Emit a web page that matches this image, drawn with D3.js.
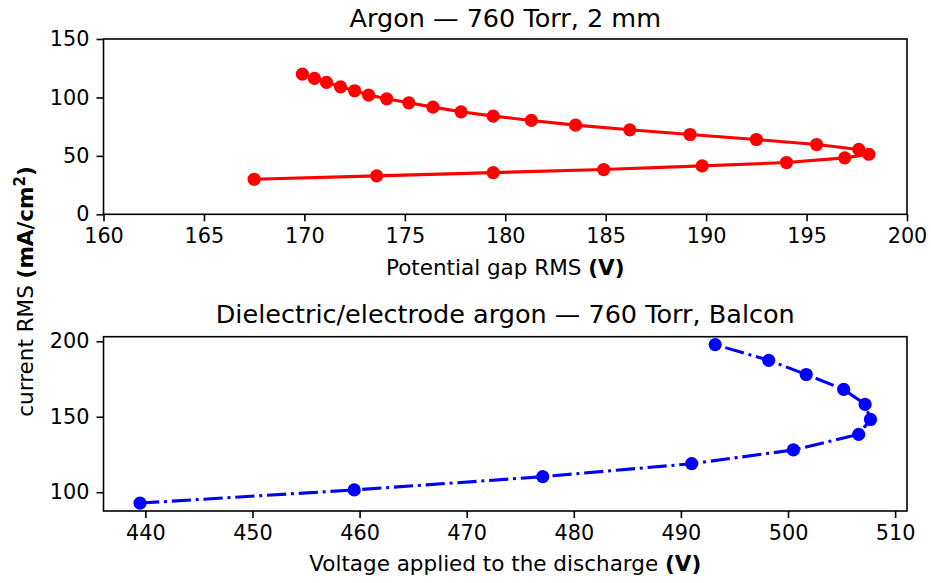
<!DOCTYPE html>
<html>
<head>
<meta charset="utf-8">
<script src="https://cdn.jsdelivr.net/npm/d3@7"></script>
<style>
    body { margin: 0; background: #ffffff; }
    svg { display: block; font-family: "DejaVu Sans", sans-serif; }
</style>
</head>
<body>
<script>

// Top panel: gap potential vs current density (one closed-ish loop)
const gapVoltage = [167.5, 173.6, 179.4, 184.9, 189.8, 194.0, 196.9, 198.1, 197.6, 195.5,
    192.5, 189.2, 186.2, 183.5, 181.3, 179.4, 177.8, 176.4, 175.2, 174.1,
    173.2, 172.5, 171.8, 171.1, 170.5, 169.9];
const gapCurrent = [30.0, 32.9, 35.7, 38.3, 41.4, 44.3, 48.3, 51.4, 55.5, 59.7,
    64.0, 68.3, 72.3, 76.3, 80.3, 84.0, 87.7, 91.7, 95.4, 98.8,
    102.0, 105.7, 109.1, 112.9, 116.3, 120.0];

// Bottom panel: applied voltage vs current density
const appliedVoltage = [439.5, 459.5, 477.1, 491.0, 500.5, 506.6, 507.7, 507.2, 505.2, 501.7, 498.2, 493.2];
const appliedCurrent = [92.8, 101.5, 110.3, 118.9, 128.0, 138.3, 148.2, 158.2, 168.1, 178.0, 187.4, 197.8];

// Tick values
const topTicksX = [160, 165, 170, 175, 180, 185, 190, 195, 200];
const topTicksY = [0, 50, 100, 150];
const bottomTicksX = [440, 450, 460, 470, 480, 490, 500, 510];
const bottomTicksY = [100, 150, 200];

// Texts
const topTitle = "Argon \u2014 760 Torr, 2 mm";
const bottomTitle = "Dielectric/electrode argon \u2014 760 Torr, Balcon";
const topXLabel = "Potential gap RMS ";
const bottomXLabel = "Voltage applied to the discharge ";


// Width and height of the whole figure
let width = 931;
let height = 583;

const svg = d3.select("body").append("svg")
    .attr("width", width)
    .attr("height", height)
    .attr("viewBox", [0, 0, width, height]);

svg.append("rect").attr("width", width).attr("height", height).attr("fill", "#ffffff");


// Matplotlib-like 5% margin around the data
function padded(values) {
    let lo = d3.min(values);
    let hi = d3.max(values);
    let m = (hi - lo) * 0.05;
    return [lo - m, hi + m];
}


function drawPanel(opts) {

    let xScale = d3.scaleLinear().domain(opts.domainX).range([opts.left, opts.right]);
    let yScale = d3.scaleLinear().domain(opts.domainY).range([opts.bottom, opts.top]);

    // Axes with outward ticks
    let xAxis = d3.axisBottom(xScale).tickValues(opts.ticksX).tickSize(7).tickPadding(7).tickFormat(d3.format("d"));
    let yAxis = d3.axisLeft(yScale).tickValues(opts.ticksY).tickSize(7).tickPadding(7).tickFormat(d3.format("d"));

    let gx = svg.append("g")
        .attr("transform", `translate(0, ${opts.bottom})`)
        .call(xAxis);
    let gy = svg.append("g")
        .attr("transform", `translate(${opts.left}, 0)`)
        .call(yAxis);

    [gx, gy].forEach(g => {
        g.select(".domain").remove();
        g.selectAll(".tick line").attr("stroke", "#000").attr("stroke-width", 1.6);
        g.selectAll(".tick text").attr("fill", "#000").style("font-size", "20.8px")
            .style("font-family", "DejaVu Sans, sans-serif");
    });

    // Data line, then markers on top
    let pts = opts.xs.map((x, i) => [x, opts.ys[i]]);
    let line = d3.line()
        .x(p => xScale(p[0]))
        .y(p => yScale(p[1]));

    svg.append("path")
        .attr("d", line(pts))
        .attr("fill", "none")
        .attr("stroke", opts.color)
        .attr("stroke-width", 3.1)
        .attr("stroke-dasharray", opts.dash)
        .attr("stroke-linejoin", "round");

    svg.append("g")
        .selectAll("circle")
        .data(pts)
        .enter()
        .append("circle")
        .attr("cx", p => xScale(p[0]))
        .attr("cy", p => yScale(p[1]))
        .attr("r", 6.6)
        .attr("fill", opts.color);

    // Frame
    svg.append("rect")
        .attr("x", opts.left)
        .attr("y", opts.top)
        .attr("width", opts.right - opts.left)
        .attr("height", opts.bottom - opts.top)
        .attr("fill", "none")
        .attr("stroke", "#000")
        .attr("stroke-width", 1.6);

    // Title
    svg.append("text")
        .attr("x", (opts.left + opts.right) / 2)
        .attr("y", opts.titleY)
        .attr("text-anchor", "middle")
        .style("font-size", "25.5px")
        .text(opts.title);

    // X label with bold unit
    let lab = svg.append("text")
        .attr("x", (opts.left + opts.right) / 2)
        .attr("y", opts.xLabelY)
        .attr("text-anchor", "middle")
        .style("font-size", "21.5px");
    lab.append("tspan").text(opts.xLabel);
    lab.append("tspan").attr("font-weight", "bold").text("(V)");
}


drawPanel({
    left: 103.5, right: 907, top: 39, bottom: 214.3,
    domainX: [160, 200], domainY: [0, 150],
    ticksX: topTicksX, ticksY: topTicksY,
    xs: gapVoltage, ys: gapCurrent,
    color: "#ff0000", dash: null,
    title: topTitle, titleY: 27,
    xLabelY: 275, xLabel: topXLabel
});

drawPanel({
    left: 103.5, right: 907, top: 336.7, bottom: 511,
    domainX: padded(appliedVoltage), domainY: padded(appliedCurrent),
    ticksX: bottomTicksX, ticksY: bottomTicksY,
    xs: appliedVoltage, ys: appliedCurrent,
    color: "#0000ff", dash: "19.2,4.8,3,4.8",
    title: bottomTitle, titleY: 323,
    xLabelY: 571, xLabel: bottomXLabel
});

// Shared y label for the figure
let ylab = svg.append("text")
    .attr("transform", `translate(33, ${height / 2}) rotate(-90)`)
    .attr("text-anchor", "middle")
    .style("font-size", "21.5px");
ylab.append("tspan").text("current RMS ");
ylab.append("tspan").attr("font-weight", "bold").text("(mA/cm");
ylab.append("tspan").attr("font-weight", "bold").attr("dy", "-8").style("font-size", "15px").text("2");
ylab.append("tspan").attr("font-weight", "bold").attr("dy", "8").text(")");

</script>
</body>
</html>
